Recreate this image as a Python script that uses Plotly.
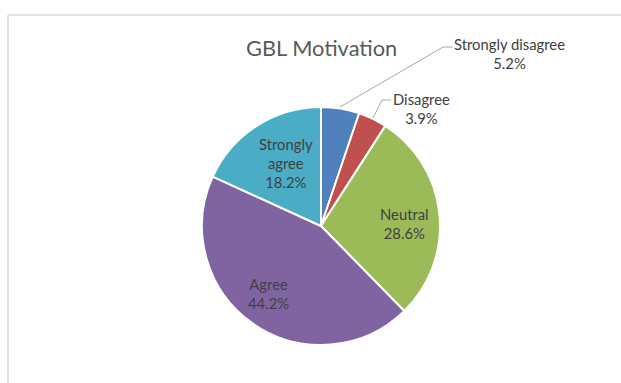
import plotly.graph_objects as go

# Survey responses on game-based learning motivation (percent)
categories = ["Strongly disagree", "Disagree", "Neutral", "Agree", "Strongly agree"]
values = [5.2, 3.9, 28.6, 44.2, 18.2]
colors = ["#4F81BD", "#C0504D", "#9BBB59", "#8064A2", "#4BACC6"]
title = "GBL Motivation"

W, H = 621, 383
CX, CY, R = 321, 226, 119   # pie centre and radius in pixels


def px(x):
    return x / W


def py(y):
    return 1 - y / H


fig = go.Figure(go.Pie(
    labels=categories,
    values=values,
    marker=dict(colors=colors, line=dict(color="white", width=2)),
    sort=False,
    direction="clockwise",
    rotation=0,
    textinfo="none",
    hoverinfo="label+percent",
    showlegend=False,
    domain=dict(x=[px(CX - R), px(CX + R)], y=[py(CY + R), py(CY - R)]),
))

label_font = dict(family="Lato, 'Open Sans', sans-serif", size=14.8, color="#404040")

# Label anchor points (pixels) per category
label_pos = {
    "Strongly disagree": (509, 53),
    "Disagree": (421, 108),
    "Neutral": (404, 223),
    "Agree": (268, 293),
    "Strongly agree": (286, 163),
}
label_text = {
    "Strongly agree": "Strongly<br>agree",
}

annotations = []
for cat, val in zip(categories, values):
    x, y = label_pos[cat]
    name = label_text.get(cat, cat)
    annotations.append(dict(
        x=px(x), y=py(y), xref="paper", yref="paper",
        text=f"{name}<br>{val}%", showarrow=False,
        font=label_font, align="center",
        xanchor="center", yanchor="middle",
    ))

annotations.append(dict(
    x=px(321), y=py(47), xref="paper", yref="paper",
    text=title, showarrow=False,
    font=dict(family="Lato, 'Open Sans', sans-serif", size=21.8, color="#595959"),
    xanchor="center", yanchor="middle",
))

leader = dict(color="#A6A6A6", width=1)
shapes = [
    # leader lines for the two small slices
    dict(type="path", xref="paper", yref="paper",
         path=f"M {px(340)},{py(107)} L {px(443)},{py(47)} L {px(453)},{py(47)}",
         line=leader),
    dict(type="path", xref="paper", yref="paper",
         path=f"M {px(373)},{py(118)} L {px(382)},{py(100)} L {px(391)},{py(100)}",
         line=leader),
    # chart-area border (top and left edges)
    dict(type="line", xref="paper", yref="paper",
         x0=px(8), y0=py(15), x1=1.01, y1=py(15),
         line=dict(color="#D9D9D9", width=1.5)),
    dict(type="line", xref="paper", yref="paper",
         x0=px(8), y0=py(15), x1=px(8), y1=-0.01,
         line=dict(color="#D9D9D9", width=1.5)),
]

fig.update_layout(
    width=W, height=H,
    margin=dict(l=0, r=0, t=0, b=0),
    paper_bgcolor="white",
    plot_bgcolor="white",
    annotations=annotations,
    shapes=shapes,
)

fig.write_html("out.html")
